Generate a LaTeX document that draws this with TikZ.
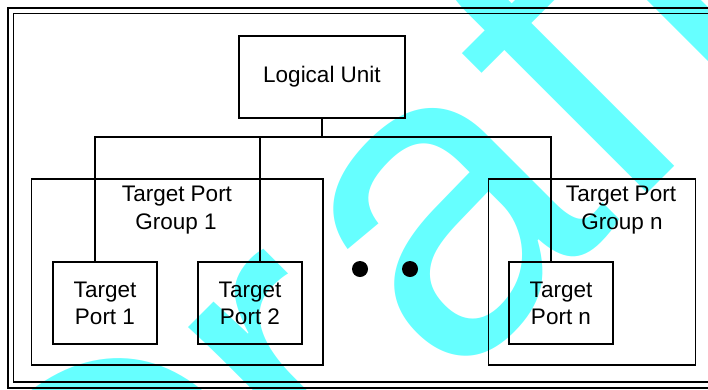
\documentclass[tikz,border=0pt]{standalone}
\usepackage{fontspec}
\setmainfont{Liberation Sans}
\definecolor{wmcyan}{RGB}{102,255,255}
\begin{document}
\begin{tikzpicture}[x=1pt,y=-1pt,
  box/.style={draw, line width=1.2pt, inner sep=0pt, align=center,
    font=\fontsize{22.5}{27}\selectfont},
  lbl/.style={inner sep=0pt, font=\fontsize{22.5}{27}\selectfont},
  conn/.style={line width=1.2pt},
  frameline/.style={line width=1.5pt},
  dotc/.style={circle, fill=black, inner sep=0pt, minimum size=16pt},
  wmtext/.style={text=wmcyan, inner sep=0pt, font=\fontsize{435}{435}\selectfont}]
\useasboundingbox (0,0) rectangle (708,389);
% watermark
\begin{scope}
\clip (0,0) rectangle (708,389);
\node[wmtext, rotate=45, anchor=base west] (wmk) at (120.2,721.2)
  {D\kern-17pt r\kern24pt a\kern0pt f\kern20pt t};
\end{scope}
% double frame
\draw[frameline] (8,8) rectangle (716,388);
\draw[frameline] (13.5,13.5) rectangle (716,382);
% boxes
\node[box, minimum width=166pt, minimum height=82pt] (lu) at (322,77) {Logical Unit};
\node[box, minimum width=291.4pt, minimum height=186pt] (g1) at (177.3,272) {};
\node[box, minimum width=207.2pt, minimum height=186pt] (gn) at (592.1,272) {};
\node[box, minimum width=104pt, minimum height=82pt] (tp1) at (105,303) {Target\\Port 1};
\node[box, minimum width=104pt, minimum height=82pt] (tp2) at (250,303) {Target\\Port 2};
\node[box, minimum width=104pt, minimum height=82pt] (tpn) at (561,303) {Target\\Port n};
% group labels
\node[lbl, anchor=base] (g1t) at (177,201.5) {Target Port};
\node[lbl, anchor=base] (g1b) at (176,229) {Group 1};
\node[lbl, anchor=base] (gnt) at (621,201.5) {Target Port};
\node[lbl, anchor=base] (gnb) at (622,229) {Group n};
% connectors
\coordinate (bus) at (322,137);
\draw[conn] (lu.south) -- (bus);
\draw[conn] ([xshift=-10pt]tp1.north) |- (bus) -| ([xshift=-10pt]tpn.north);
\draw[conn] ([xshift=10pt]tp2.north) -- ([xshift=10pt]tp2.north |- bus);
% ellipsis dots
\node[dotc] (dot1) at (360,269) {};
\node[dotc] (dot2) at (410,269) {};
\end{tikzpicture}
\end{document}
